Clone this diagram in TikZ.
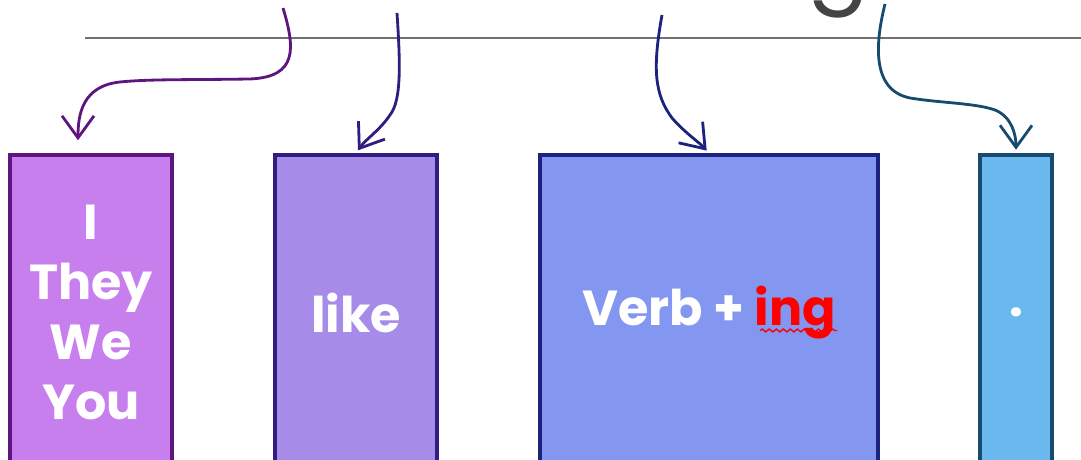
\documentclass[tikz,border=0pt]{standalone}
\usepackage{fontspec}
\setmainfont{Poppins}
\usetikzlibrary{positioning, arrows.meta, calc, decorations.pathmorphing}
\definecolor{pronfill}{RGB}{199,127,238}
\definecolor{pronline}{RGB}{94,21,128}
\definecolor{likefill}{RGB}{166,140,232}
\definecolor{likeline}{RGB}{50,28,128}
\definecolor{verbfill}{RGB}{131,150,240}
\definecolor{verbline}{RGB}{28,35,127}
\definecolor{dotfill}{RGB}{106,184,238}
\definecolor{dotline}{RGB}{22,74,110}
\definecolor{rulegray}{RGB}{112,112,112}
\definecolor{titlegray}{RGB}{68,68,68}
\tikzset{
  wordbox/.style={draw, line width=1pt, minimum height=3.15cm, inner sep=0,
    text=white, align=center, font=\bfseries\fontsize{14}{17}\selectfont},
  curvy/.style={->, line width=0.8pt, shorten >=1pt}
}

\begin{document}
\begin{tikzpicture}[>={Straight Barb[length=2.2mm,width=3.2mm]}]
\useasboundingbox (0,0) rectangle (10.81,4.60);
\clip (0,0) rectangle (10.81,4.60);

% title remnant and rule
\node [font=\fontsize{26}{30}\selectfont, color=titlegray, anchor=base] (title) at (8.38,4.66) {g};
\draw [color=rulegray, line width=0.8pt] (0.85,4.22) -- (10.81,4.22);

% word boxes
\node [wordbox, fill=pronfill, draw=pronline, minimum width=1.62cm] (pron) at (0.91,1.475) {I\\They\\We\\You};
\node [wordbox, fill=likefill, draw=likeline, minimum width=1.62cm] (like) at (3.56,1.475) {like};
\node [wordbox, fill=verbfill, draw=verbline, minimum width=3.38cm] (verb) at (7.09,1.475) {Verb + \textcolor{red}{ing}};
\node [wordbox, fill=dotfill, draw=dotline, minimum width=0.72cm] (dot) at (10.16,1.475) {.};
\draw [red, line width=0.4pt, decorate, decoration={snake, amplitude=0.4pt, segment length=2pt}]
  ($(verb.center)+(0.51,-0.18)$) -- ($(verb.center)+(1.28,-0.18)$);

% arrows
\coordinate (s1) at (2.83,4.52);
\coordinate (s2) at (3.97,4.47);
\coordinate (s3) at (6.62,4.45);
\coordinate (s4) at (8.85,4.56);

\draw [curvy, color=pronline, shorten >=0.13cm] (s1) .. controls (2.95,4.12) and (2.98,3.83) .. (2.5,3.81)
  .. controls (1.9,3.80) and (1.5,3.81) .. (1.2,3.78)
  .. controls (0.82,3.74) and (0.78,3.45) .. ([xshift=-0.13cm]pron.north);
\draw [curvy, color=likeline] (s2) .. controls (4.0,4.0) and (4.02,3.6) .. (3.9,3.45)
  .. controls (3.8,3.3) and (3.65,3.2) .. (like.north);
\draw [curvy, color=verbline] (s3) .. controls (6.52,3.9) and (6.55,3.65) .. (6.72,3.42)
  .. controls (6.85,3.27) and (7.0,3.17) .. (verb.north);
\draw [curvy, color=dotline] (s4) .. controls (8.76,4.2) and (8.70,3.70) .. (9.10,3.62)
  .. controls (9.40,3.57) and (9.75,3.57) .. (9.95,3.50)
  .. controls (10.12,3.43) and (10.16,3.25) .. (dot.north);

\end{tikzpicture}
\end{document}
